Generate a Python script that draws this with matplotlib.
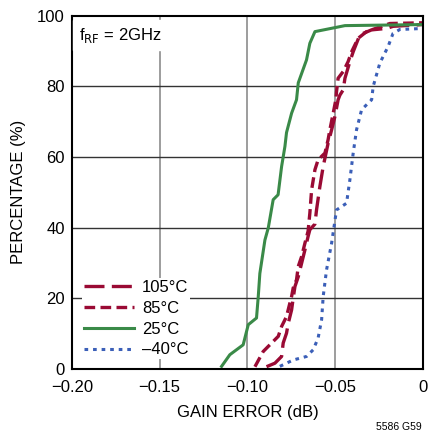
import matplotlib
matplotlib.use("Agg")
import matplotlib.pyplot as plt

plt.rcParams['font.family'] = ['Liberation Sans Narrow', 'Liberation Sans', 'DejaVu Sans']

# gain error (dB) vs cumulative percentage
x_105 = [-0.0891, -0.0843, -0.0805, -0.0796, -0.0777, -0.0767, -0.0748, -0.0739, -0.0729,
         -0.0710, -0.0691, -0.0672, -0.0654, -0.0644, -0.0615, -0.0606, -0.0587, -0.0568,
         -0.0540, -0.0520, -0.0501, -0.0483, -0.0473, -0.0454, -0.0444, -0.0416, -0.0397,
         -0.0359, -0.0292, -0.0207, -0.0170, 0.0]
y_105 = [0.6, 1.6, 3.5, 7.3, 10.1, 12.9, 16.7, 20.0, 23.3,
         26.1, 29.9, 33.7, 37.5, 39.4, 41.0, 45.0, 51.6, 57.3,
         63.9, 67.7, 71.5, 76.2, 77.5, 79.0, 82.3, 87.0, 89.8,
         94.6, 96.0, 96.4, 97.0, 97.5]

x_85 = [-0.0957, -0.0910, -0.0862, -0.0824, -0.0805, -0.0777, -0.0758, -0.0748, -0.0739,
        -0.0720, -0.0710, -0.0691, -0.0672, -0.0654, -0.0644, -0.0634, -0.0615, -0.0597,
        -0.0558, -0.0540, -0.0530, -0.0511, -0.0496, -0.0492, -0.0483, -0.0454, -0.0426,
        -0.0406, -0.0369, -0.0321, -0.0188, 0.0]
y_85 = [0.6, 4.9, 7.3, 9.2, 12.0, 14.8, 18.6, 20.5, 22.9,
        25.2, 29.0, 31.8, 35.6, 39.0, 44.1, 50.7, 56.4, 59.2,
        61.1, 64.9, 67.7, 72.4, 76.2, 78.5, 82.3, 84.2, 87.0,
        89.8, 93.6, 95.5, 97.8, 98.0]

x_25 = [-0.1147, -0.1100, -0.1024, -0.0995, -0.0948, -0.0938, -0.0929, -0.0900, -0.0881,
        -0.0853, -0.0825, -0.0805, -0.0786, -0.0777, -0.0748, -0.0720, -0.0710, -0.0663,
        -0.0644, -0.0615, -0.0444, 0.0]
y_25 = [0.7, 4.0, 6.8, 12.5, 14.4, 20.5, 27.0, 36.5, 39.9,
        47.9, 49.3, 57.3, 63.0, 66.9, 72.4, 76.2, 81.0, 87.5,
        92.2, 95.5, 97.2, 97.5]

x_m40 = [-0.0815, -0.0739, -0.0663, -0.0625, -0.0597, -0.0577, -0.0568, -0.0549, -0.0520,
         -0.0492, -0.0435, -0.0416, -0.0397, -0.0378, -0.0349, -0.0292, -0.0283, -0.0245,
         -0.0198, -0.0170, -0.0131, 0.0]
y_m40 = [0.7, 2.5, 3.5, 5.4, 8.7, 13.9, 20.5, 28.0, 35.6,
         45.0, 46.9, 53.5, 61.1, 67.7, 73.4, 76.2, 80.0, 86.6,
         91.3, 95.0, 96.1, 96.4]

xticks = [-0.20, -0.15, -0.10, -0.05, 0]
xtick_labels = ['\u22120.20', '\u22120.15', '\u22120.10', '\u22120.05', '0']
yticks = [0, 20, 40, 60, 80, 100]

red = '#9a0a34'
green = '#3a8a48'
blue = '#3b5fb8'

fig = plt.figure(figsize=(4.28, 4.37), dpi=100)
ax = fig.add_axes([0.168, 0.156, 0.820, 0.808])

for xv in xticks[1:-1]:
    ax.axvline(xv, color='#8c8c8c', lw=1.2, zorder=0)
for yv in yticks[1:-1]:
    ax.axhline(yv, color='#333333', lw=1.0, zorder=0)

ax.plot(x_105, y_105, color=red, lw=2.4, dashes=(6, 2.2), label='105\u00b0C')
ax.plot(x_85, y_85, color=red, lw=2.4, dashes=(3.2, 1.6), label='85\u00b0C')
ax.plot(x_25, y_25, color=green, lw=2.2, label='25\u00b0C')
ax.plot(x_m40, y_m40, color=blue, lw=2.2, dashes=(1.2, 1.6), label='\u201340\u00b0C')

ax.set_xlim(-0.20, 0)
ax.set_ylim(0, 100)
ax.set_xticks(xticks)
ax.set_xticklabels(xtick_labels)
ax.set_yticks(yticks)
ax.tick_params(axis='x', length=0, labelsize=12, pad=8)
ax.tick_params(axis='y', length=0, labelsize=12, pad=5)
for s in ax.spines.values():
    s.set_linewidth(1.5)

ax.set_xlabel('GAIN ERROR (dB)', fontsize=12, labelpad=7)
ax.set_ylabel('PERCENTAGE (%)', fontsize=12, labelpad=8)

ax.text(0.02, 0.945, r'f$_{\mathrm{RF}}$ = 2GHz', transform=ax.transAxes, fontsize=12,
        va='center', ha='left', backgroundcolor='white')

leg = ax.legend(loc='lower left', bbox_to_anchor=(0.005, 0.004), fontsize=12, frameon=True,
                handlelength=3.0, handletextpad=0.5, labelspacing=0.35, borderpad=0.1)
leg.get_frame().set_edgecolor('none')
leg.get_frame().set_facecolor('white')
leg.get_frame().set_alpha(1)

fig.text(0.985, 0.012, '5586 G59', fontsize=7.5, ha='right', va='bottom')

fig.savefig('out.png', dpi=100)
